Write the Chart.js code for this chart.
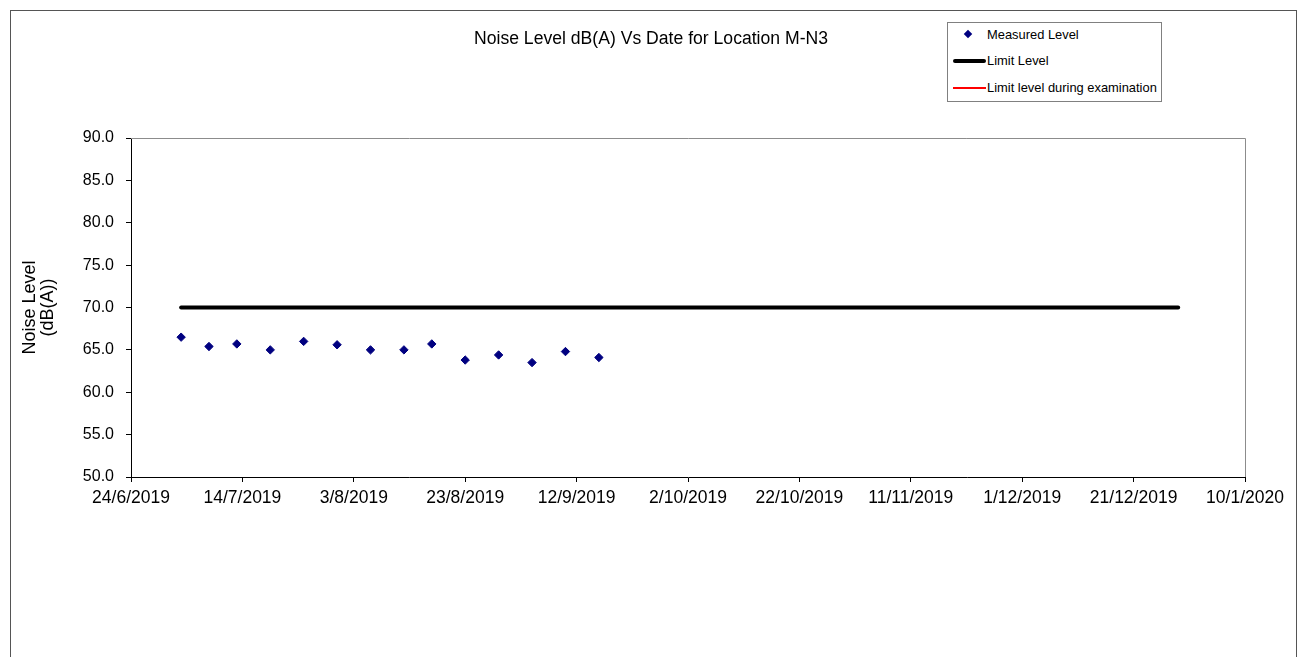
<!DOCTYPE html>
<html>
<head>
<meta charset="utf-8">
<script src="https://cdn.jsdelivr.net/npm/chart.js@4/dist/chart.umd.min.js"></script>
<style>
  body { margin: 0; background: #fff; font-family: "Liberation Sans", Arial, sans-serif; }
  #wrap { position: relative; width: 1300px; height: 657px; overflow: hidden; }
  #frame { position: absolute; left: 10px; top: 10px; width: 1285px; height: 700px; border: 1px solid #555; }
  #title { position: absolute; left: 0; width: 1302px; top: 28px; text-align: center; font-size: 17.6px; color: #000; }
  #legend { position: absolute; left: 947px; top: 22px; width: 213px; height: 78px; border: 1px solid #808080; background: #fff; font-size: 12.9px; }
  .item { position: absolute; left: 0; height: 20px; line-height: 20px; white-space: nowrap; }
  .sym { position: absolute; }
  .txt { position: absolute; left: 39px; }
  canvas { position: absolute; left: 0; top: 0; }
</style>
</head>
<body>
<div id="wrap">
  <div id="frame"></div>
  <canvas id="myChart" width="1300" height="657"></canvas>
  <div id="title"></div>
  <div id="legend"></div>
</div>
<script>
// 차트 데이터
var chartTitle = "Noise Level dB(A) Vs Date for Location M-N3";
var yTitle = ["Noise Level", "(dB(A))"];
var seriesNames = ["Measured Level", "Limit Level", "Limit level during examination"];

var startDate = "24/6/2019";   // x축 0 위치
var xTickLabels = ["24/6/2019", "14/7/2019", "3/8/2019", "23/8/2019", "12/9/2019", "2/10/2019",
                   "22/10/2019", "11/11/2019", "1/12/2019", "21/12/2019", "10/1/2020"];

var measuredDates = ["3/7/2019", "8/7/2019", "13/7/2019", "19/7/2019", "25/7/2019", "31/7/2019", "6/8/2019",
                     "12/8/2019", "17/8/2019", "23/8/2019", "29/8/2019", "4/9/2019", "10/9/2019", "16/9/2019"];
var measuredLevels = [66.5, 65.4, 65.7, 65.0, 66.0, 65.6, 65.0,
                      65.0, 65.7, 63.8, 64.4, 63.5, 64.8, 64.1];

var limitDates = ["3/7/2019", "29/12/2019"];
var limitLevels = [70, 70];

var examDates = [];
var examLevels = [];

// 날짜 -> 시작일부터 며칠인지
function toDay(str) {
    var p = str.split("/");
    var s = startDate.split("/");
    var d = Date.UTC(+p[2], +p[1] - 1, +p[0]);
    var d0 = Date.UTC(+s[2], +s[1] - 1, +s[0]);
    return Math.round((d - d0) / 86400000);
}

function toPoints(dates, levels) {
    var pts = [];
    for (var i = 0; i < dates.length; i++) {
        pts[i] = { x: toDay(dates[i]), y: levels[i] };
    }
    return pts;
}

var tickStep = toDay(xTickLabels[1]);
var xMax = toDay(xTickLabels[xTickLabels.length - 1]);

document.getElementById("title").textContent = chartTitle;

// 범례 (html)
var legendEl = document.getElementById("legend");
var legendSym = [
    '<div class="sym" style="left:17px;top:6px;width:6px;height:6px;background:#000080;transform:rotate(45deg)"></div>',
    '<div class="sym" style="left:5px;top:8px;width:33px;height:4px;background:#000;border-radius:2px"></div>',
    '<div class="sym" style="left:5px;top:9px;width:33px;height:2px;background:#ff0000"></div>'
];
var legendTop = [2, 28, 55];
for (var i = 0; i < seriesNames.length; i++) {
    var item = document.createElement("div");
    item.className = "item";
    item.style.top = legendTop[i] + "px";
    item.innerHTML = legendSym[i] + '<span class="txt">' + seriesNames[i] + '</span>';
    legendEl.appendChild(item);
}

// 차트 영역 위/오른쪽 테두리
var areaBorder = {
    id: "areaBorder",
    afterDraw: function (chart) {
        var a = chart.chartArea;
        var ctx = chart.ctx;
        ctx.save();
        ctx.strokeStyle = "#8c8c8c";
        ctx.lineWidth = 1;
        ctx.beginPath();
        ctx.moveTo(a.left, a.top + 0.5);
        ctx.lineTo(a.right + 0.5, a.top + 0.5);
        ctx.lineTo(a.right + 0.5, a.bottom);
        ctx.stroke();
        ctx.restore();
    }
};

var fontFam = "'Liberation Sans', Arial, sans-serif";

var config = {
    type: "scatter",
    data: {
        datasets: [
            {
                label: seriesNames[0],
                data: toPoints(measuredDates, measuredLevels),
                showLine: false,
                pointStyle: "rectRot",
                pointRadius: 4.2,
                pointBorderWidth: 1,
                backgroundColor: "#000080",
                borderColor: "#000080"
            },
            {
                label: seriesNames[1],
                data: toPoints(limitDates, limitLevels),
                showLine: true,
                borderColor: "#000000",
                borderWidth: 4,
                borderCapStyle: "round",
                pointRadius: 0
            },
            {
                label: seriesNames[2],
                data: toPoints(examDates, examLevels),
                showLine: true,
                borderColor: "#ff0000",
                borderWidth: 2,
                pointRadius: 0
            }
        ]
    },
    options: {
        responsive: false,
        animation: false,
        layout: { padding: { top: 138, right: 55, bottom: 140, left: 0 } },
        plugins: {
            legend: { display: false },
            title: { display: false },
            tooltip: { enabled: false }
        },
        scales: {
            x: {
                type: "linear",
                min: 0,
                max: xMax,
                afterFit: function (scale) { scale.height = 40; },
                afterBuildTicks: function (scale) {
                    var t = [];
                    for (var i = 0; i < xTickLabels.length; i++) t.push({ value: i * tickStep });
                    scale.ticks = t;
                },
                ticks: {
                    autoSkip: false,
                    maxRotation: 0,
                    padding: 6,
                    color: "#000",
                    font: { family: fontFam, size: 17.5 },
                    callback: function (v) { return xTickLabels[Math.round(v / tickStep)]; }
                },
                grid: { drawOnChartArea: false, drawTicks: true, tickLength: 5, color: "#000" },
                border: { color: "#000", width: 1 }
            },
            y: {
                min: 50,
                max: 90,
                afterFit: function (scale) { scale.width = 131; },
                ticks: {
                    stepSize: 5,
                    padding: 12,
                    color: "#000",
                    font: { family: fontFam, size: 16 },
                    callback: function (v) { return v.toFixed(1); }
                },
                grid: { drawOnChartArea: false, drawTicks: true, tickLength: 5, color: "#000" },
                border: { color: "#000", width: 1 },
                title: {
                    display: true,
                    text: yTitle,
                    color: "#000",
                    padding: { top: 21, bottom: 0 },
                    font: { family: fontFam, size: 18, lineHeight: 1.0 }
                }
            }
        }
    },
    plugins: [areaBorder]
};

var myChart = new Chart(document.getElementById("myChart"), config);
</script>
</body>
</html>
